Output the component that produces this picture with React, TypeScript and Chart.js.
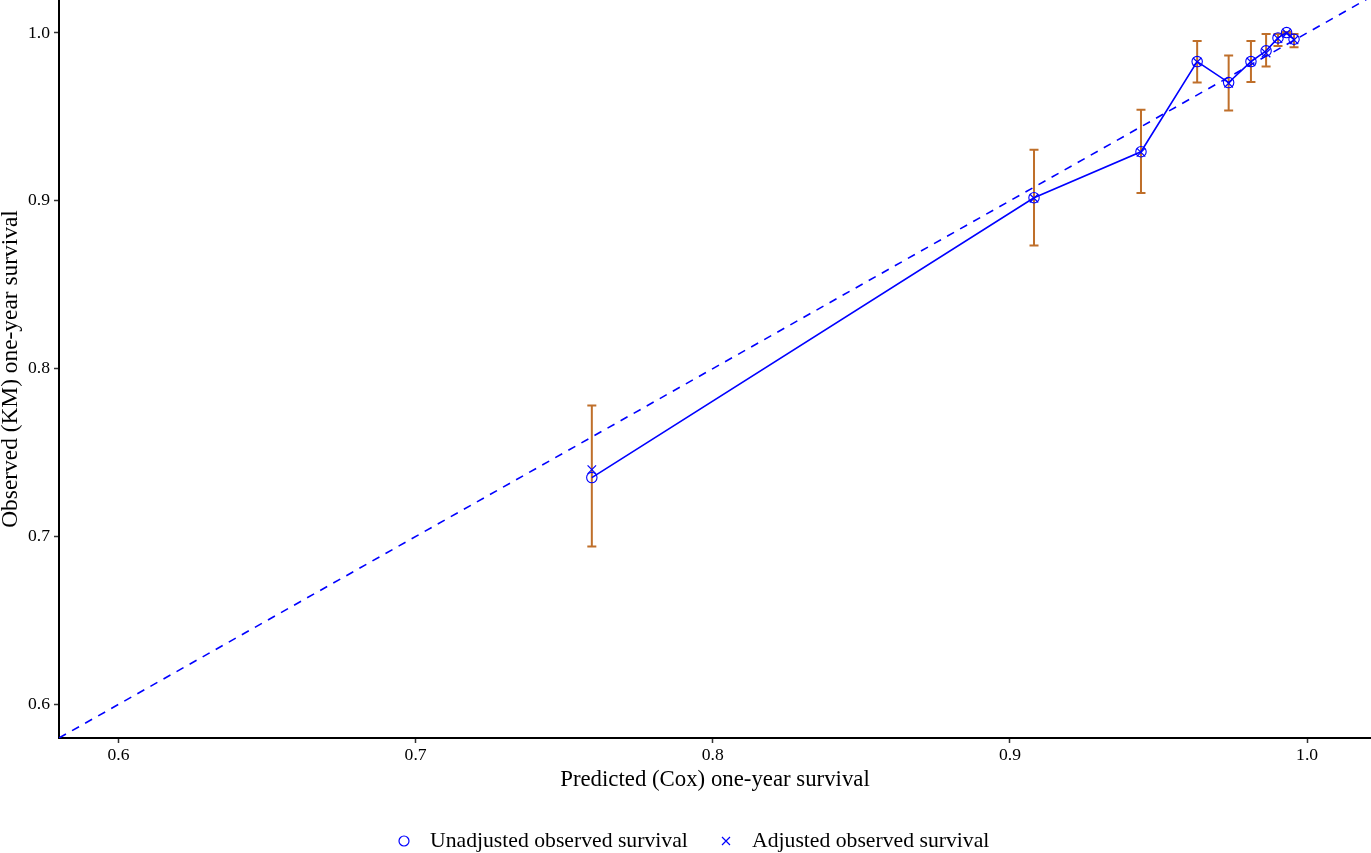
import React, { useEffect, useRef } from "react";
import { Chart, registerables } from "chart.js";

Chart.register(...registerables);

// Predicted (Cox) one-year survival per group
const predicted = [0.7593, 0.9081, 0.9441, 0.963, 0.9736, 0.9811, 0.9862, 0.9902, 0.9931, 0.9956];
// Unadjusted observed (KM) survival
const unadjusted = [0.7351, 0.9018, 0.9292, 0.9829, 0.9704, 0.9829, 0.9893, 0.9970, 1.0002, 0.9962];
// Adjusted observed survival
const adjusted = [0.7399, 0.9015, 0.9288, 0.9827, 0.9700, 0.9827, 0.9880, 0.9966, 0.9998, 0.9958];
// Confidence limits
const lowerCI = [0.694, 0.8734, 0.9046, 0.9704, 0.9538, 0.9708, 0.980, 0.9922, 0.9995, 0.9914];
const upperCI = [0.778, 0.9304, 0.9542, 0.9952, 0.9865, 0.9952, 0.9994, 0.9994, 1.0005, 0.9994];
// Identity reference line endpoints
const identityLine = [0.58, 1.03];
const tickValues = [0.6, 0.7, 0.8, 0.9, 1.0];
const legendLabels = ["Unadjusted observed survival", "Adjusted observed survival"];

const BLUE = "#0000FF";
const ERR = "#BF6F2A";
const FONT = "'Liberation Serif', 'Times New Roman', serif";

export default function App() {
  const ref = useRef<HTMLCanvasElement>(null);

  useEffect(() => {
    document.body.style.margin = "0";
    document.body.style.overflow = "hidden";
    const canvas = ref.current!;

    const errorBars = {
      id: "errorBars",
      beforeDatasetsDraw(chart: any) {
        const { ctx, scales } = chart;
        const xs = scales.x, ys = scales.y;
        ctx.save();
        ctx.strokeStyle = ERR;
        ctx.lineWidth = 2;
        const cap = 4.5;
        for (let i = 0; i < predicted.length; i++) {
          const px = xs.getPixelForValue(predicted[i]);
          const py1 = ys.getPixelForValue(lowerCI[i]);
          const py2 = ys.getPixelForValue(upperCI[i]);
          ctx.beginPath();
          ctx.moveTo(px, py1);
          ctx.lineTo(px, py2);
          ctx.moveTo(px - cap, py1);
          ctx.lineTo(px + cap, py1);
          ctx.moveTo(px - cap, py2);
          ctx.lineTo(px + cap, py2);
          ctx.stroke();
        }
        ctx.restore();
      },
    };

    const legendPlugin = {
      id: "customLegend",
      afterDraw(chart: any) {
        const { ctx } = chart;
        ctx.save();
        const y = 841;
        ctx.font = `21.7px ${FONT}`;
        ctx.fillStyle = "#000";
        ctx.textBaseline = "middle";
        ctx.textAlign = "left";
        ctx.strokeStyle = BLUE;
        ctx.lineWidth = 1.2;
        ctx.beginPath();
        ctx.arc(404, y, 5, 0, Math.PI * 2);
        ctx.stroke();
        ctx.fillText(legendLabels[0], 430, y);
        ctx.beginPath();
        ctx.moveTo(722, y - 4);
        ctx.lineTo(730, y + 4);
        ctx.moveTo(730, y - 4);
        ctx.lineTo(722, y + 4);
        ctx.stroke();
        ctx.fillText(legendLabels[1], 752, y);
        ctx.restore();
      },
    };

    const chart = new Chart(canvas, {
      type: "scatter",
      data: {
        datasets: [
          {
            label: "identity",
            type: "line",
            data: identityLine.map((v) => ({ x: v, y: v })),
            borderColor: BLUE,
            borderWidth: 1.6,
            borderDash: [8, 7],
            pointRadius: 0,
            showLine: true,
            fill: false,
          } as any,
          {
            label: legendLabels[0],
            type: "line",
            data: predicted.map((x, i) => ({ x, y: unadjusted[i] })),
            borderColor: BLUE,
            borderWidth: 1.6,
            showLine: true,
            fill: false,
            pointStyle: "circle",
            pointRadius: 5.2,
            pointBorderWidth: 1.1,
            pointBorderColor: BLUE,
            pointBackgroundColor: "rgba(0,0,0,0)",
          } as any,
          {
            label: legendLabels[1],
            data: predicted.map((x, i) => ({ x, y: adjusted[i] })),
            showLine: false,
            pointStyle: "crossRot",
            pointRadius: 6,
            pointBorderWidth: 1.2,
            pointBorderColor: BLUE,
            borderColor: BLUE,
          } as any,
        ],
      },
      options: {
        responsive: false,
        animation: false,
        events: [],
        layout: { autoPadding: false, padding: { left: 0, right: 0, top: 0, bottom: 60 } },
        plugins: {
          legend: { display: false },
          tooltip: { enabled: false },
        },
        scales: {
          x: {
            type: "linear",
            min: 0.58,
            max: 1.0215,
            afterBuildTicks: (s: any) => {
              s.ticks = tickValues.map((v) => ({ value: v }));
            },
            afterFit: (s: any) => {
              s.height = 55;
              s.paddingLeft = 0;
              s.paddingRight = 0;
            },
            grid: { display: true, drawOnChartArea: false, drawTicks: true, tickLength: 5, tickColor: "#333", tickWidth: 1.5 },
            border: { display: true, color: "#000", width: 2 },
            ticks: {
              color: "#000",
              font: { family: FONT, size: 17.6 },
              padding: 2,
              callback: (v: any) => Number(v).toFixed(1),
            },
            title: {
              display: true,
              text: "Predicted (Cox) one-year survival",
              color: "#000",
              font: { family: FONT, size: 22.8, lineHeight: 1.1 },
              padding: { top: 0, bottom: 0 },
            },
          },
          y: {
            type: "linear",
            min: 0.58,
            max: 1.0196,
            afterBuildTicks: (s: any) => {
              s.ticks = tickValues.map((v) => ({ value: v }));
            },
            afterFit: (s: any) => {
              s.width = 59;
              s.paddingTop = 0;
              s.paddingBottom = 0;
            },
            grid: { display: true, drawOnChartArea: false, drawTicks: true, tickLength: 5, tickColor: "#333", tickWidth: 1.5 },
            border: { display: true, color: "#000", width: 2 },
            ticks: {
              color: "#000",
              font: { family: FONT, size: 17.6 },
              padding: 4,
              callback: (v: any) => Number(v).toFixed(1),
            },
            title: {
              display: true,
              text: "Observed (KM) one-year survival",
              color: "#000",
              font: { family: FONT, size: 23.4, lineHeight: 0.95 },
              padding: { top: 0, bottom: 0 },
            },
          },
        },
      },
      plugins: [errorBars, legendPlugin],
    });

    return () => chart.destroy();
  }, []);

  return (
    <div style={{ width: 1371, height: 853 }}>
      <canvas ref={ref} width={1371} height={853} style={{ width: 1371, height: 853, display: "block" }} />
    </div>
  );
}
